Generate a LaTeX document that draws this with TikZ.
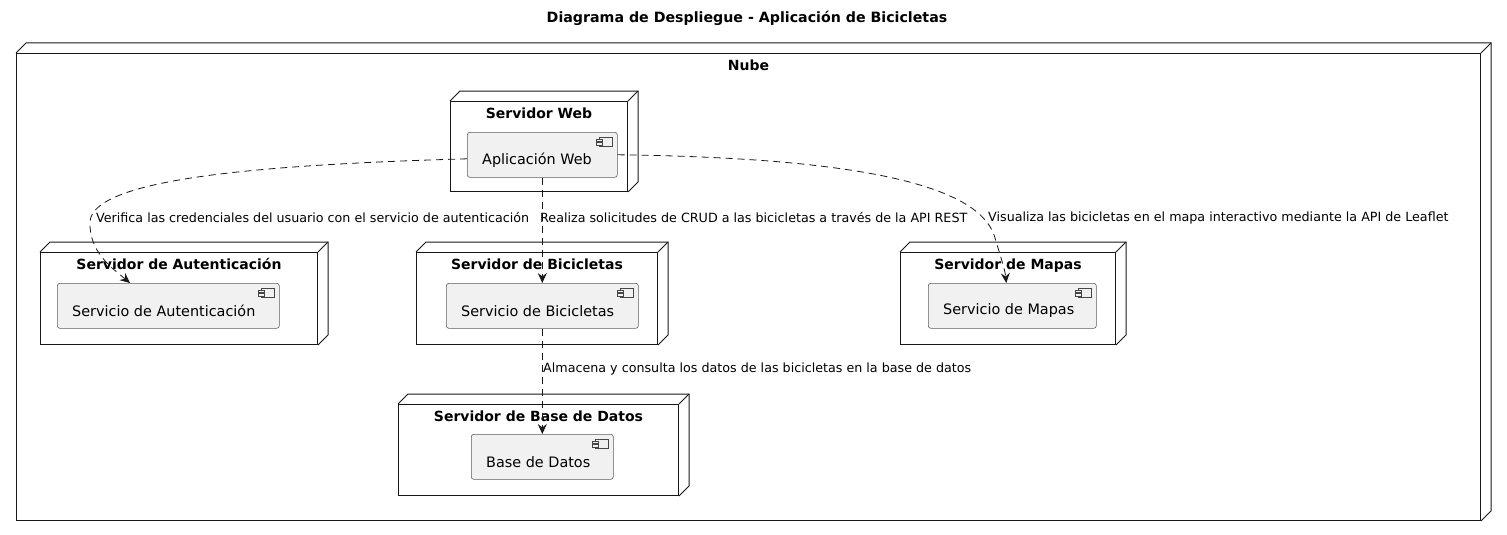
\documentclass[tikz,border=0pt]{standalone}
\usepackage{fontspec}
\setmainfont{DejaVu Sans}
\usetikzlibrary{arrows.meta,calc}
\definecolor{ink}{HTML}{181818}
\definecolor{compfill}{HTML}{F1F1F1}
\tikzset{
  every node/.style={font=\fontsize{14.4}{16}\selectfont, text=black},
  srvbox/.style={draw=ink, line width=1pt, anchor=north west, inner sep=0pt},
  comp/.style={draw=ink!70, fill=compfill, line width=0.6pt, rounded corners=2.5pt, anchor=north west, inner sep=0pt},
  ttl/.style={font=\bfseries\fontsize{14}{16}\selectfont, anchor=north},
  ctext/.style={font=\fontsize{14.4}{16}\selectfont, anchor=west, inner sep=0pt},
  lbl/.style={font=\fontsize{12.7}{15}\selectfont, anchor=west, inner sep=1pt},
  dep/.style={draw=ink, line width=0.8pt, dash pattern=on 7pt off 5pt, -{Stealth[length=10pt,width=9pt,inset=3.5pt]}},
  back/.style={draw=ink, line width=1pt},
  icon/.style={draw=ink!80, line width=0.5pt, fill=compfill},
}
% front rectangle + depth
\newcommand{\srv}[6]{%
  \node[srvbox, minimum width=#4-#2, minimum height=#5-#3] (#1) at (#2,#3) {};
  \draw[back] (#1.north west) -- ++(10,-10) -- ($(#1.north east)+(10,-10)$) -- ($(#1.south east)+(10,-10)$) -- (#1.south east);
  \draw[back] (#1.north east) -- ++(10,-10);
  \node[ttl] at ($(#1.north)+(0,3)$) {#6};
}
\newcommand{\cmp}[6]{%
  \node[comp, minimum width=#4-#2, minimum height=#5-#3] (#1) at (#2,#3) {};
  \node[ctext] at ($(#1.west)+(15,5)$) {#6};
  \draw[icon] ($(#1.north east)+(-18,5)$) rectangle ($(#1.north east)+(-5,14)$);
  \draw[icon] ($(#1.north east)+(-21,7)$) rectangle ($(#1.north east)+(-15,9.5)$);
  \draw[icon] ($(#1.north east)+(-21,10.5)$) rectangle ($(#1.north east)+(-15,13)$);
}
\begin{document}
\begin{tikzpicture}[x=1pt,y=-1pt]
\useasboundingbox[fill=white] (0,0) rectangle (1507,535);
\node[font=\bfseries\fontsize{14.2}{16}\selectfont] (title) at (747,18) {Diagrama de Despliegue - Aplicación de Bicicletas};

\srv{nube}{16}{53}{1480}{520}{Nube}

\srv{sweb}{450}{101}{627}{191}{Servidor Web}
\cmp{webapp}{467}{132}{617}{177}{Aplicación Web}

\srv{sauth}{40}{252}{317}{344}{Servidor de Autenticación}
\cmp{auth}{57}{283}{279}{328}{Servicio de Autenticación}

\srv{sbici}{416}{252}{657}{344}{Servidor de Bicicletas}
\cmp{bici}{446}{283}{638}{328}{Servicio de Bicicletas}

\srv{smapas}{900}{252}{1115}{344}{Servidor de Mapas}
\cmp{mapas}{928}{283}{1096}{328}{Servicio de Mapas}

\srv{sbd}{398}{404}{678}{495}{Servidor de Base de Datos}
\cmp{bd}{471}{434}{613}{479}{Base de Datos}

% connectors
\coordinate (authin) at ($(auth.north west)+(73,0)$);
\coordinate (mapin) at ($(mapas.north)+(-6,0)$);
\draw[dep] ($(webapp.west)+(0,4)$) .. controls (250,165) and (92,180) .. (90,222) .. controls (89,252) and (112,268) .. (authin);
\draw[dep] (webapp.south) -- (bici.north);
\draw[dep] (webapp.east) .. controls (880,158) and (982,190) .. (995,238) .. controls (1001,258) and (1005,270) .. (mapin);
\draw[dep] (bici.south) -- (bd.north);

\node[lbl] (l1) at (95,218) {Verifica las credenciales del usuario con el servicio de autenticación};
\node[lbl] (l2) at (539,218) {Realiza solicitudes de CRUD a las bicicletas a través de la API REST};
\node[lbl] (l3) at (987,218) {Visualiza las bicicletas en el mapa interactivo mediante la API de Leaflet};
\node[lbl] (l4) at (542,369) {Almacena y consulta los datos de las bicicletas en la base de datos};
\end{tikzpicture}
\end{document}
